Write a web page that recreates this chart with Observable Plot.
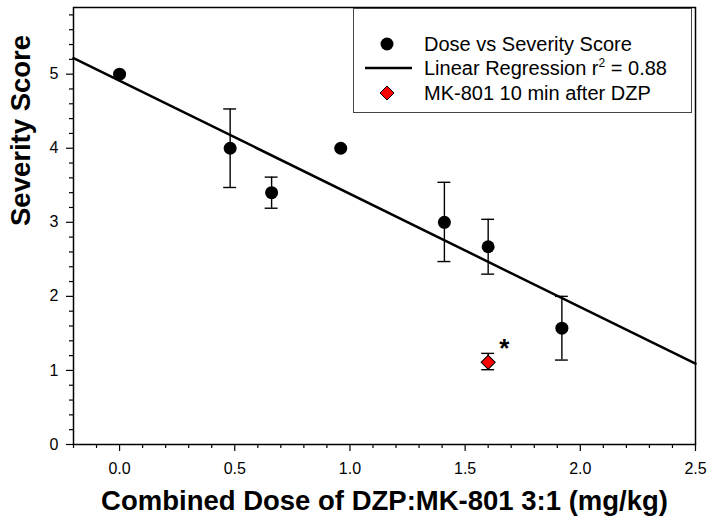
<!DOCTYPE html>
<html>
<head>
<meta charset="utf-8">
<script src="https://cdn.jsdelivr.net/npm/d3@7"></script>
<script src="https://cdn.jsdelivr.net/npm/@observablehq/plot@0.6"></script>
<style>
  body { margin: 0; background: #fff; }
  #wrap { position: relative; width: 714px; height: 532px; font-family: "Liberation Sans", Arial, sans-serif; color: #000; }
  #legend { position: absolute; left: 353px; top: 8px; width: 337px; height: 103px; border: 1.5px solid #444; background: #fff; box-sizing: content-box; }
  .row { position: absolute; left: 0; height: 24px; width: 100%; font-size: 20px; line-height: 24px; }
  .row svg { position: absolute; left: 10px; top: 0; }
  .row span { position: absolute; left: 70px; top: 0; white-space: nowrap; }
  sup { font-size: 12px; line-height: 0; vertical-align: 8px; }
</style>
</head>
<body>
<div id="wrap"></div>
<script>
// Data
const doses      = [0.0, 0.48, 0.66, 0.96, 1.41, 1.60, 1.92];
const severity   = [5.0, 4.0, 3.40, 4.0, 3.0, 2.67, 1.57];
const errLow     = [null, 3.47, 3.19, null, 2.47, 2.30, 1.14];
const errHigh    = [null, 4.53, 3.61, null, 3.54, 3.04, 2.00];
const mkDose     = [1.60];
const mkSeverity = [1.11];
const mkErrLow   = [1.01];
const mkErrHigh  = [1.23];
const starPos    = [{x: 1.67, y: 1.30, t: "*"}];
const xDomain = [-0.2, 2.5];
const yDomain = [0, 5.9];
const xMajor = [0, 0.5, 1, 1.5, 2, 2.5];
const yMajor = [0, 1, 2, 3, 4, 5];
const xLabel = "Combined Dose of DZP:MK-801 3:1 (mg/kg)";
const yLabel = "Severity Score";

const pts = doses.map((d, i) => ({x: d, y: severity[i], lo: errLow[i], hi: errHigh[i]}));
const mk = mkDose.map((d, i) => ({x: d, y: mkSeverity[i], lo: mkErrLow[i], hi: mkErrHigh[i]}));
const bars = pts.filter(d => d.lo != null).concat(mk);

// least squares fit
const mx = d3.mean(pts, d => d.x), my = d3.mean(pts, d => d.y);
const slope = d3.sum(pts, d => (d.x - mx) * (d.y - my)) / d3.sum(pts, d => (d.x - mx) ** 2);
const icpt = my - slope * mx;
const fit = xDomain.map(x => ({x, y: icpt + slope * x}));

const xMinor = d3.range(-2, 26).map(i => i / 10).filter(v => !xMajor.some(m => Math.abs(m - v) < 1e-9));
const yMinor = d3.range(0, 30).map(i => i / 5).filter(v => v <= 5.9 && !yMajor.some(m => Math.abs(m - v) < 1e-9));
const capW = 0.028;

const chart = Plot.plot({
  width: 714, height: 532,
  marginLeft: 73, marginRight: 19, marginTop: 7, marginBottom: 88,
  style: {fontFamily: "Liberation Sans, Arial, sans-serif", color: "#000", background: "#fff"},
  x: {domain: xDomain},
  y: {domain: yDomain},
  marks: [
    Plot.frame({stroke: "#000", strokeWidth: 1.5}),
    Plot.axisX(xMinor, {tickSize: 4, tickFormat: () => "", strokeWidth: 1.2, label: null}),
    Plot.axisX(xMajor, {tickSize: 7, tickFormat: d3.format(".1f"), fontSize: 16, tickPadding: 11, strokeWidth: 1.2, label: null}),
    Plot.axisY(yMinor, {tickSize: 4, tickFormat: () => "", strokeWidth: 1.2, label: null}),
    Plot.axisY(yMajor, {tickSize: 7, tickFormat: d3.format("d"), fontSize: 16, tickPadding: 8, strokeWidth: 1.2, label: null}),
    Plot.text([xLabel], {frameAnchor: "bottom", dy: 65, fontSize: 27.5, fontWeight: "bold", fill: "#000"}),
    Plot.text([yLabel], {frameAnchor: "left", dx: -52, rotate: -90, fontSize: 27.5, fontWeight: "bold", fill: "#000"}),
    Plot.line(fit, {x: "x", y: "y", stroke: "#000", strokeWidth: 2.5}),
    Plot.ruleX(bars, {x: "x", y1: "lo", y2: "hi", stroke: "#000", strokeWidth: 1.4}),
    Plot.ruleY(bars, {y: "lo", x1: d => d.x - capW, x2: d => d.x + capW, stroke: "#000", strokeWidth: 1.4}),
    Plot.ruleY(bars, {y: "hi", x1: d => d.x - capW, x2: d => d.x + capW, stroke: "#000", strokeWidth: 1.4}),
    Plot.dot(pts, {x: "x", y: "y", r: 6.5, fill: "#000", stroke: "none"}),
    Plot.dot(mk, {x: "x", y: "y", symbol: "square", rotate: 45, r: 5.6, fill: "#ff0000", stroke: "#000", strokeWidth: 1}),
    Plot.text(starPos, {x: "x", y: "y", text: "t", fontSize: 26, fontWeight: "bold", fill: "#000"})
  ]
});

const wrap = document.getElementById("wrap");
wrap.appendChild(chart);

const legend = document.createElement("div");
legend.id = "legend";
legend.innerHTML = `
  <div class="row" style="top:23px"><svg width="50" height="24"><circle cx="23" cy="12" r="6.5" fill="#000"/></svg><span>Dose vs Severity Score</span></div>
  <div class="row" style="top:47px"><svg width="50" height="24"><line x1="1" x2="48" y1="12" y2="12" stroke="#000" stroke-width="2.5"/></svg><span>Linear Regression r<sup>2</sup> = 0.88</span></div>
  <div class="row" style="top:72px"><svg width="50" height="24"><path d="M23,5 L30,12 L23,19 L16,12 Z" fill="#ff0000" stroke="#000" stroke-width="1"/></svg><span>MK-801 10 min after DZP</span></div>
`;
wrap.appendChild(legend);
</script>
</body>
</html>
